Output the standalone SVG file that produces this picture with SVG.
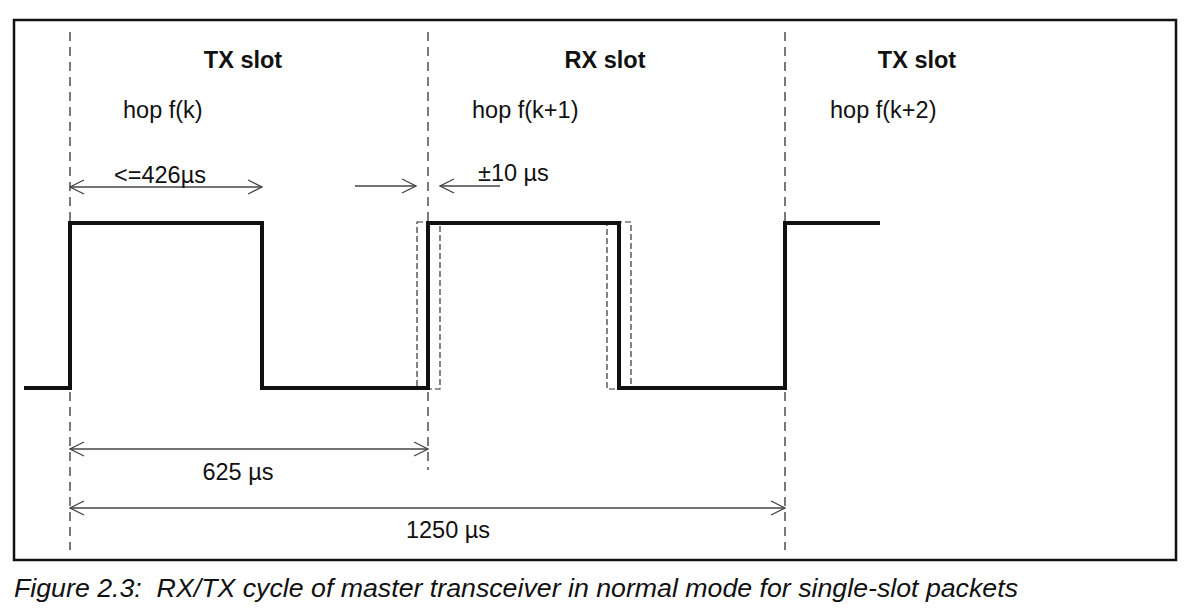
<svg xmlns="http://www.w3.org/2000/svg" width="1204" height="616" viewBox="0 0 1204 616">
<defs>
<style>
.dash{stroke:#333;stroke-width:1.3;stroke-dasharray:9,6;fill:none}
.thin{stroke:#444;stroke-width:1.3;fill:none}
.sig{stroke:#111;stroke-width:4;fill:none;stroke-linejoin:miter}
.box{stroke:#333;stroke-width:1.2;stroke-dasharray:6,3;fill:none}
.t{font-family:"Liberation Sans",Arial,sans-serif;font-size:23.5px;fill:#111}
.b{font-weight:bold}
.cap{font-family:"Liberation Sans",Arial,sans-serif;font-size:25px;font-style:italic;fill:#111;white-space:pre}
</style>
<marker id="ah" viewBox="0 0 16 16" refX="15" refY="8" markerWidth="16" markerHeight="16" markerUnits="userSpaceOnUse" orient="auto-start-reverse">
<path d="M1,1 L15,8 L1,15" fill="none" stroke="#444" stroke-width="1.3"/>
</marker>
</defs>
<rect x="14" y="20" width="1162" height="540" fill="none" stroke="#111" stroke-width="2.5"/>
<g id="gridlines">
<line class="dash" x1="70" y1="32" x2="70" y2="550"/>
<line class="dash" x1="428" y1="32" x2="428" y2="470"/>
<line class="dash" x1="785" y1="32" x2="785" y2="550"/>
</g>
<g id="labels">
<text class="t b" x="243" y="68" text-anchor="middle">TX slot</text>
<text class="t b" x="605" y="68" text-anchor="middle">RX slot</text>
<text class="t b" x="917" y="68" text-anchor="middle">TX slot</text>
<text class="t" x="123" y="118">hop f(k)</text>
<text class="t" x="472" y="118">hop f(k+1)</text>
<text class="t" x="830" y="118">hop f(k+2)</text>
</g>
<g id="signal">
<rect class="box" x="417" y="222" width="23" height="167"/>
<rect class="box" x="607" y="222" width="24" height="167"/>
<polyline class="sig" points="24,388 70,388 70,223 262,223 262,388 428,388 428,223 619,223 619,388 785,388 785,223 880,223"/>
</g>
<g id="connectors">
<line class="thin" x1="70" y1="187" x2="262" y2="187" marker-start="url(#ah)" marker-end="url(#ah)"/>
<line class="thin" x1="355" y1="186" x2="416" y2="186" marker-end="url(#ah)"/>
<line class="thin" x1="500" y1="186" x2="440" y2="186" marker-end="url(#ah)"/>
<line class="thin" x1="70" y1="449" x2="428" y2="449" marker-start="url(#ah)" marker-end="url(#ah)"/>
<line class="thin" x1="70" y1="508" x2="785" y2="508" marker-start="url(#ah)" marker-end="url(#ah)"/>
</g>
<g id="dimlabels">
<text class="t" x="160" y="183" text-anchor="middle">&lt;=426µs</text>
<text class="t" x="478" y="181">±10 µs</text>
<text class="t" x="238" y="480" text-anchor="middle">625 µs</text>
<text class="t" x="448" y="538" text-anchor="middle">1250 µs</text>
</g>
<text class="cap" x="14" y="597" textLength="1004" lengthAdjust="spacingAndGlyphs">Figure 2.3:  RX/TX cycle of master transceiver in normal mode for single-slot packets</text>
</svg>
